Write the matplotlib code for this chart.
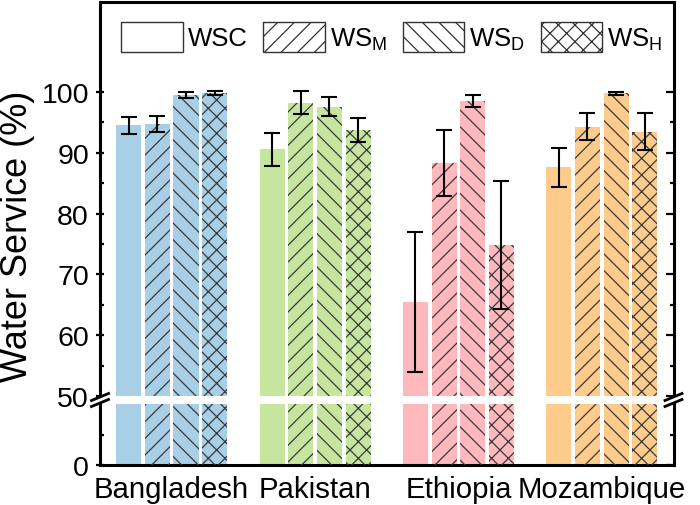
import numpy as np
import matplotlib
matplotlib.use("Agg")
import matplotlib.pyplot as plt
from matplotlib.patches import Patch, Polygon
from matplotlib.lines import Line2D
from matplotlib.ticker import FixedLocator

plt.rcParams['font.family'] = ['Liberation Sans', 'DejaVu Sans']
plt.rcParams['mathtext.fontset'] = 'custom'
plt.rcParams['mathtext.rm'] = 'Liberation Sans'
plt.rcParams['hatch.linewidth'] = 0.9

# data
countries = ["Bangladesh", "Pakistan", "Ethiopia", "Mozambique"]
series = ["WSC", "WS$_\\mathregular{M}$", "WS$_\\mathregular{D}$", "WS$_\\mathregular{H}$"]
hatches = [None, "//", "\\\\", "xx"]
colors = ["#a8cfe6", "#c6e69f", "#ffb8bb", "#fdcb8b"]

# rows: series (WSC, WSM, WSD, WSH); columns: countries
means = [
    [94.5, 90.6, 65.4, 87.6],
    [94.7, 98.2, 88.3, 94.3],
    [99.5, 97.6, 98.5, 99.8],
    [99.8, 93.7, 74.8, 93.5],
]
errs = [
    [1.4, 2.7, 11.5, 3.2],
    [1.3, 1.9, 5.4, 2.2],
    [0.5, 1.6, 1.05, 0.25],
    [0.3, 2.0, 10.5, 3.1],
]

W, H = 700, 506
fig = plt.figure(figsize=(7, 5.06), dpi=100)

left_px, right_px = 100, 673.5
top_px, gap_top, gap_bot, bot_px = 3, 397, 405, 466

def fx(px):
    return px / W

def fy(py):
    return 1 - py / H

ax = fig.add_axes([fx(left_px), fy(gap_top), fx(right_px - left_px), (gap_top - top_px) / H])
ax2 = fig.add_axes([fx(left_px), fy(bot_px), fx(right_px - left_px), (bot_px - gap_bot) / H])

x = np.arange(1, len(countries) + 1)
offsets = [-0.3, -0.1, 0.1, 0.3]
bw = 0.175

for a in (ax, ax2):
    for i in range(4):
        a.bar(x + offsets[i], means[i], bw, color=colors, linewidth=0, zorder=2)
        if hatches[i]:
            a.bar(x + offsets[i], means[i], bw, facecolor="none", edgecolor="#3a3a3a",
                  linewidth=0, hatch=hatches[i], zorder=3)
    a.set_xlim(0.5, 4.5)

for i in range(4):
    ax.errorbar(x + offsets[i], means[i], yerr=errs[i], fmt="none", ecolor="black",
                elinewidth=1.5, capsize=6, capthick=1.5, zorder=4)

ax.set_ylim(50, 114.8)
ax2.set_ylim(0, 50)

ax.yaxis.set_major_locator(FixedLocator([50, 60, 70, 80, 90, 100]))
ax.yaxis.set_minor_locator(FixedLocator([55, 65, 75, 85, 95]))
ax2.yaxis.set_major_locator(FixedLocator([0]))
ax2.yaxis.set_minor_locator(FixedLocator([25]))

ax.spines["bottom"].set_visible(False)
ax2.spines["top"].set_visible(False)
for a in (ax, ax2):
    for s in a.spines.values():
        s.set_linewidth(2.2)
    a.tick_params(axis="y", which="major", direction="inout", length=6, width=1.6,
                  labelsize=20.5, pad=5)
    a.tick_params(axis="y", which="minor", direction="in", length=3, width=1.6)
    # right side ticks, pointing in
    r = a.twinx()
    r.set_ylim(a.get_ylim())
    r.yaxis.set_major_locator(FixedLocator(a.yaxis.get_majorticklocs()))
    r.yaxis.set_minor_locator(FixedLocator(a.yaxis.get_minorticklocs()))
    r.tick_params(axis="y", which="major", direction="in", length=6, width=1.6, labelright=False)
    r.tick_params(axis="y", which="minor", direction="in", length=3, width=1.6)
    for s in r.spines.values():
        s.set_visible(False)

ax.tick_params(axis="x", bottom=False, labelbottom=False)
ax2.set_xticks(x)
ax2.set_xticklabels(countries)
ax2.tick_params(axis="x", length=0, labelsize=21.2, pad=7)

fig.text(fx(18), fy(236), "Water Service (%)", rotation=90, ha="center", va="center", fontsize=26)

# legend
handles = [Patch(facecolor="white", edgecolor="#333333", linewidth=1, hatch=h if h else "")
           for h in hatches]
ax.legend(handles, series, ncol=4, loc="upper left", frameon=False,
          bbox_to_anchor=((121 - left_px) / (right_px - left_px), 1 - 20 / (gap_top - top_px)),
          borderaxespad=0, borderpad=0, fontsize=18.5, handlelength=2.4, handleheight=1.4,
          handletextpad=0.2, columnspacing=0.6)

# spine pieces across the gap and break marks
for sx in (left_px, right_px):
    fig.add_artist(Line2D([fx(sx), fx(sx)], [fy(gap_top), fy(gap_bot)], color="black",
                          linewidth=2.2, transform=fig.transFigure))
    cy = (gap_top + gap_bot) / 2
    hw, rise, sep = 8.5, 3.5, 3.0
    poly = [(sx - hw, cy + sep + rise), (sx + hw, cy + sep - rise),
            (sx + hw, cy - sep - rise), (sx - hw, cy - sep + rise)]
    fig.add_artist(Polygon([(fx(px), fy(py)) for px, py in poly], closed=True,
                           facecolor="white", edgecolor="none", transform=fig.transFigure, zorder=10))
    for d in (sep, -sep):
        fig.add_artist(Line2D([fx(sx - hw), fx(sx + hw)], [fy(cy + d + rise), fy(cy + d - rise)],
                              color="black", linewidth=2.0, transform=fig.transFigure, zorder=11))

fig.savefig("out.png", dpi=100)
